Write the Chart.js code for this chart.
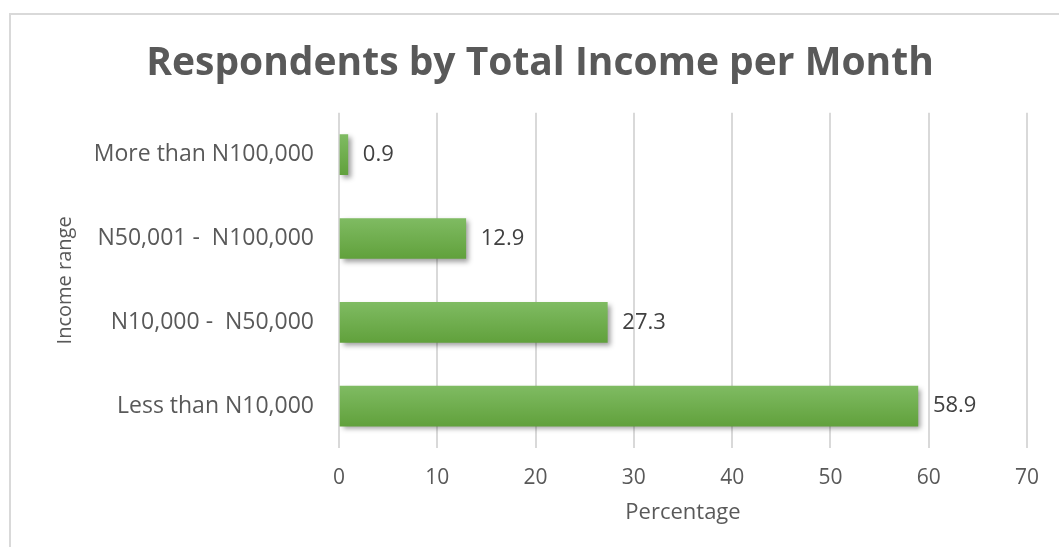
<!DOCTYPE html>
<html>
<head>
<meta charset="utf-8">
<script src="https://cdn.jsdelivr.net/npm/chart.js@4/dist/chart.umd.min.js"></script>
<style>
    html, body { margin: 0; padding: 0; background: #fff; overflow: hidden; }
    body { width: 1059px; height: 547px; position: relative; }
    #frame {
        position: absolute; left: 9px; top: 13px;
        width: 1100px; height: 600px;
        border-left: 2px solid #d9d9d9; border-top: 2px solid #d9d9d9;
    }
    #wrap { position: absolute; left: 0; top: 0; width: 1064px; height: 532px; }
</style>
</head>
<body>
<div id="frame">
    <div id="wrap"><canvas id="chart"></canvas></div>
</div>
<script>
// chart data
const categories = ['More than N100,000', 'N50,001 -  N100,000', 'N10,000 -  N50,000', 'Less than N10,000']
const percentages = [0.9, 12.9, 27.3, 58.9]
const xTicks = [0, 10, 20, 30, 40, 50, 60, 70]

const FONT = "'Open Sans', sans-serif"
const GREY = '#595959'

// soft drop shadow under the bars
const shadowPlugin = {
    id: 'barShadow',
    beforeDatasetDraw(chart) {
        const ctx = chart.ctx
        ctx.save()
        ctx.shadowColor = 'rgba(0, 0, 0, 0.38)'
        ctx.shadowBlur = 5
        ctx.shadowOffsetX = 3
        ctx.shadowOffsetY = 3
    },
    afterDatasetDraw(chart) {
        chart.ctx.restore()
    }
}

// value labels at the end of each bar
const valueLabels = {
    id: 'valueLabels',
    afterDatasetsDraw(chart) {
        const ctx = chart.ctx
        const meta = chart.getDatasetMeta(0)
        ctx.save()
        ctx.font = `22px ${FONT}`
        ctx.fillStyle = '#404040'
        ctx.textAlign = 'left'
        ctx.textBaseline = 'middle'
        meta.data.forEach((bar, i) => {
            ctx.fillText(percentages[i].toFixed(1), bar.x + 15, bar.y)
        })
        ctx.restore()
    }
}

const barFill = (c) => {
    const chart = c.chart
    const y = chart.scales.y
    if (!chart.chartArea || !y) return '#6aab47'
    const cy = y.getPixelForValue(c.dataIndex)
    const g = chart.ctx.createLinearGradient(0, cy - 20, 0, cy + 20)
    g.addColorStop(0, '#7fbb62')
    g.addColorStop(1, '#61a13c')
    return g
}

new Chart(document.getElementById('chart'), {
    type: 'bar',
    data: {
        labels: categories,
        datasets: [{
            data: percentages,
            backgroundColor: barFill,
            borderWidth: 0,
            barThickness: 40,
        }]
    },
    options: {
        indexAxis: 'y',
        responsive: true,
        maintainAspectRatio: false,
        animation: false,
        layout: { padding: { left: 42, right: 48, top: 0, bottom: 0 } },
        plugins: {
            legend: { display: false },
            tooltip: { enabled: false },
            title: {
                display: true,
                text: 'Respondents by Total Income per Month',
                color: GREY,
                font: { family: FONT, size: 39, weight: 'bold' },
                padding: { top: 25, bottom: 26 }
            }
        },
        scales: {
            x: {
                min: 0,
                max: 70,
                afterBuildTicks: (scale) => { scale.ticks = xTicks.map(v => ({value: v})) },
                afterFit: (scale) => { scale.height = 99 },
                grid: { color: '#d9d9d9', lineWidth: 2, drawTicks: false },
                border: { display: false },
                ticks: { color: GREY, padding: 17, font: { family: FONT, size: 21 } },
                title: {
                    display: true,
                    text: 'Percentage',
                    color: GREY,
                    font: { family: FONT, size: 22 },
                    padding: { top: 0, bottom: 21 }
                }
            },
            y: {
                afterFit: (scale) => { scale.width = 286 },
                grid: { display: false, drawTicks: false },
                border: { display: false },
                ticks: { color: GREY, padding: 25, font: { family: FONT, size: 23 } },
                title: {
                    display: true,
                    text: 'Income range',
                    color: GREY,
                    font: { family: FONT, size: 20 },
                    padding: 0
                }
            }
        }
    },
    plugins: [shadowPlugin, valueLabels]
})
</script>
</body>
</html>
